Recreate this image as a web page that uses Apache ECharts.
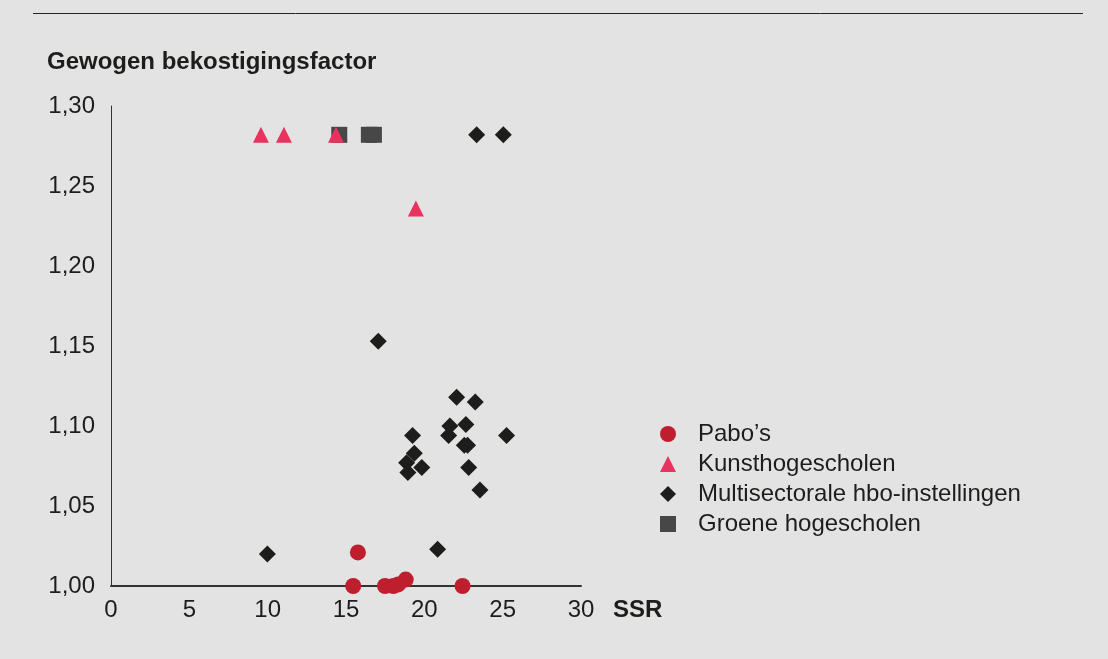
<!DOCTYPE html>
<html>
<head>
<meta charset="utf-8">
<script src="https://cdn.jsdelivr.net/npm/echarts@6/dist/echarts.min.js"></script>
<style>
  html, body { margin: 0; padding: 0; background: #e3e3e3; }
  #chart { width: 1108px; height: 659px; }
</style>
</head>
<body>
<div id="chart"></div>
<script>
// SSR, gewogen bekostigingsfactor
const pabos = [
  [15.46, 1.000], [15.76, 1.021], [17.49, 1.000], [18.02, 1.000],
  [18.33, 1.001], [18.81, 1.004], [22.44, 1.000]
]
const kunst = [
  [9.57, 1.282], [11.04, 1.282], [14.36, 1.282], [19.46, 1.236]
]
const multi = [
  [23.34, 1.282], [25.04, 1.282], [17.06, 1.153], [22.06, 1.118],
  [23.25, 1.115], [21.63, 1.100], [22.65, 1.101], [21.55, 1.094],
  [19.25, 1.094], [25.25, 1.094], [22.55, 1.088], [22.76, 1.088],
  [19.36, 1.083], [18.87, 1.077], [19.84, 1.074], [22.83, 1.074],
  [18.95, 1.071], [23.55, 1.060], [9.98, 1.020], [20.85, 1.023]
]
const groen = [
  [14.57, 1.282], [16.46, 1.282], [16.78, 1.282]
]
const seriesNames = ['Pabo\u2019s', 'Kunsthogescholen', 'Multisectorale hbo-instellingen', 'Groene hogescholen']

const font = 'Liberation Sans, Arial, sans-serif'
const ink = '#1d1d1b'
const chart = echarts.init(document.getElementById('chart'))

const option = {
  backgroundColor: '#e3e3e3',
  animation: false,
  title: {
    text: 'Gewogen bekostigingsfactor',
    left: 47,
    top: 50,
    padding: 0,
    textStyle: {fontFamily: font, fontSize: 24, fontWeight: 'bold', color: ink}
  },
  graphic: [{
    type: 'line',
    shape: {x1: 33, y1: 13.5, x2: 1083, y2: 13.5},
    style: {stroke: '#222', lineWidth: 1}
  }],
  legend: {
    orient: 'vertical',
    left: 660,
    top: 422,
    padding: 0,
    itemGap: 6,
    itemWidth: 16,
    itemHeight: 16,
    textStyle: {fontFamily: font, fontSize: 24, color: ink, padding: [0, 0, 0, 17]},
    data: [
      {name: seriesNames[0], icon: 'circle'},
      {name: seriesNames[1], icon: 'triangle'},
      {name: seriesNames[2], icon: 'diamond'},
      {name: seriesNames[3], icon: 'rect'}
    ]
  },
  grid: {left: 111, right: 527, top: 106, bottom: 73},
  xAxis: {
    type: 'value',
    min: 0, max: 30, interval: 5,
    name: 'SSR',
    nameLocation: 'end',
    nameGap: 32,
    nameTextStyle: {fontFamily: font, fontSize: 24, fontWeight: 'bold', color: ink, verticalAlign: 'top', padding: [12, 0, 0, 0]},
    axisLine: {lineStyle: {color: '#333', width: 2}},
    axisTick: {show: false},
    splitLine: {show: false},
    axisLabel: {fontFamily: font, fontSize: 24, color: ink, margin: 12}
  },
  yAxis: {
    type: 'value',
    min: 1.00, max: 1.30, interval: 0.05,
    axisLine: {show: true, lineStyle: {color: '#333', width: 1}},
    axisTick: {show: false},
    splitLine: {show: false},
    axisLabel: {
      fontFamily: font, fontSize: 24, color: ink, margin: 16, padding: [8, 0, 0, 0],
      formatter: v => v.toFixed(2).replace('.', ',')
    }
  },
  series: [
    {name: seriesNames[0], type: 'scatter', symbol: 'circle', symbolSize: 16, z: 4,
      itemStyle: {color: '#be1e2d', opacity: 1}, data: pabos},
    {name: seriesNames[1], type: 'scatter', symbol: 'triangle', symbolSize: 16, z: 5,
      itemStyle: {color: '#e8335f', opacity: 1}, data: kunst},
    {name: seriesNames[2], type: 'scatter', symbol: 'diamond', symbolSize: 17, z: 3,
      itemStyle: {color: '#1d1d1b', opacity: 1}, data: multi},
    {name: seriesNames[3], type: 'scatter', symbol: 'rect', symbolSize: 16, z: 2,
      itemStyle: {color: '#474747', opacity: 1}, data: groen}
  ]
}
chart.setOption(option)
window.addEventListener('resize', function () {
  chart.resize()
})
</script>
</body>
</html>
